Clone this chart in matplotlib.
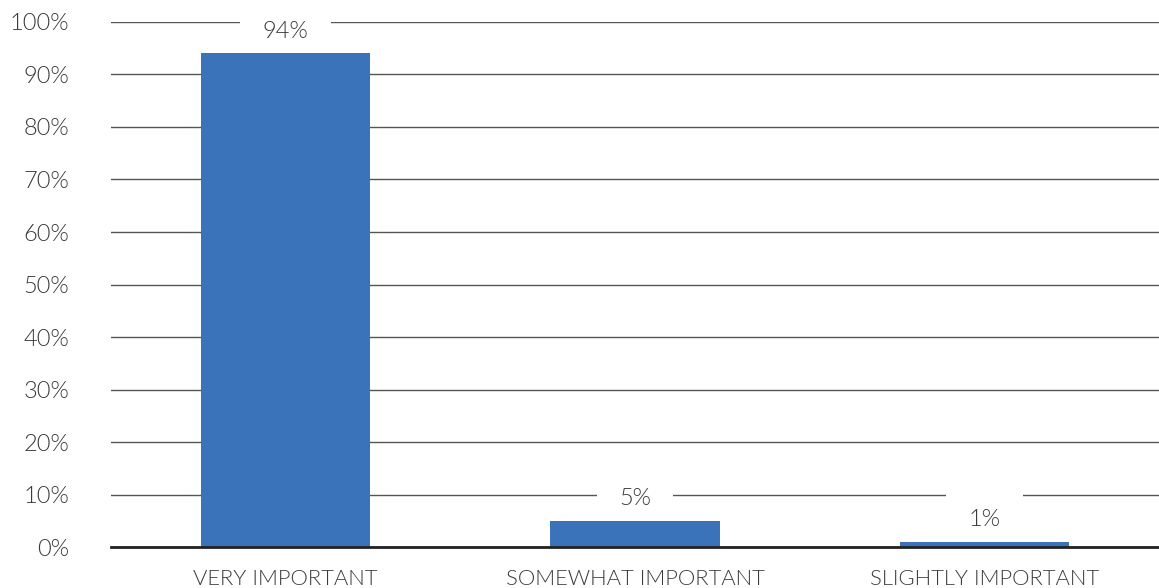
import matplotlib.pyplot as plt
from matplotlib import font_manager

# Chart data
categories = ['VERY IMPORTANT', 'SOMEWHAT IMPORTANT', 'SLIGHTLY IMPORTANT']
values = [94, 5, 1]
y_ticks = [0, 10, 20, 30, 40, 50, 60, 70, 80, 90, 100]

names = {f.name for f in font_manager.fontManager.ttflist}
family = 'Lato' if 'Lato' in names else 'DejaVu Sans'
plt.rcParams['font.family'] = [family, 'DejaVu Sans']
weight = 300

bar_color = '#3A73BA'
text_color = '#3a3a3a'

fig = plt.figure(figsize=(11.59, 5.88), dpi=100)
ax = fig.add_axes([0.0958, 0.0697, 0.9042, 0.8929])

x = range(len(categories))
ax.bar(x, values, width=0.485, color=bar_color, zorder=3)

ax.set_xlim(-0.5, len(categories) - 0.5)
ax.set_ylim(0, 100)
ax.set_yticks(y_ticks)
ax.set_yticklabels([f'{v}%' for v in y_ticks], fontsize=17, color=text_color, fontweight=weight)
ax.set_xticks(list(x))
ax.set_xticklabels(categories, fontsize=15.8, color=text_color, fontweight=weight)
ax.tick_params(axis='y', length=0, pad=30)
ax.tick_params(axis='x', length=0, pad=16)

ax.grid(axis='y', color='#555555', linewidth=1, zorder=1)
for side in ['top', 'right', 'left']:
    ax.spines[side].set_visible(False)
ax.spines['bottom'].set_color('#222222')
ax.spines['bottom'].set_linewidth(2)
ax.spines['bottom'].set_zorder(4)

# value labels with white box that breaks the grid line (drawn under the bars)
for i, v in enumerate(values):
    ax.annotate(f'{v}%', (i, v), xytext=(0, 16), textcoords='offset points',
                ha='center', va='center', fontsize=17, color=text_color, fontweight=weight,
                bbox=dict(boxstyle='square,pad=0.95', fc='white', ec='none'), zorder=2)

fig.savefig('out.png', dpi=100)
